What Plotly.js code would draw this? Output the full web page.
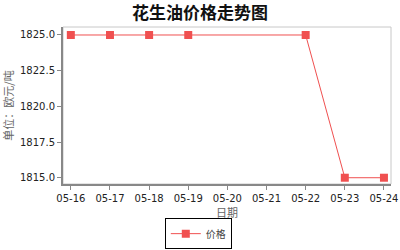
<!DOCTYPE html>
<html>
<head>
<meta charset="utf-8">
<script src="https://cdn.plot.ly/plotly-3.0.1.min.js"></script>
<style>html,body{margin:0;padding:0;background:#fff;}#chart{width:400px;height:250px;}</style>
</head>
<body>
<div id="chart"></div>
<script>
// Peanut oil price, euro per tonne, by day
const dates = ['05-16', '05-17', '05-18', '05-19', '05-20', '05-21', '05-22', '05-23', '05-24'];
const prices = [1825, 1825, 1825, 1825, null, null, 1825, 1815, 1815];
const yTicks = [1815, 1817.5, 1820, 1822.5, 1825];
const yTickText = ['1815.0', '1817.5', '1820.0', '1822.5', '1825.0'];

const lineColor = '#f05050';
const tickFont = {family: 'DejaVu Sans, sans-serif', size: 10, color: '#222'};
const cjk = 'Noto Sans CJK SC, sans-serif';

Plotly.newPlot('chart', [{
  x: dates,
  y: prices,
  type: 'scatter',
  mode: 'lines+markers',
  name: '价格',
  connectgaps: true,
  line: {color: lineColor, width: 1},
  marker: {color: lineColor, symbol: 'square', size: 8}
}], {
  width: 400,
  height: 250,
  margin: {l: 63, r: 9, t: 27, b: 66, autoexpand: false},
  paper_bgcolor: '#fff',
  plot_bgcolor: '#fff',
  title: {
    text: '<b>花生油价格走势图</b>',
    font: {family: cjk, size: 17, color: '#111'},
    x: 0.5, xanchor: 'center', yref: 'container', y: 0.946, yanchor: 'middle'
  },
  xaxis: {
    type: 'category',
    range: [-0.2, 8.18],
    showgrid: false,
    zeroline: false,
    showline: true, linecolor: '#888', linewidth: 2,
    ticks: 'outside', ticklen: 4, tickcolor: '#888', tickwidth: 1,
    tickfont: tickFont,
    title: {text: '日期', font: {family: cjk, size: 11, color: '#666'}, standoff: 6}
  },
  yaxis: {
    range: [1814.56, 1825.56],
    tickvals: yTicks,
    ticktext: yTickText,
    showgrid: false,
    zeroline: false,
    showline: true, linecolor: '#888', linewidth: 2,
    ticks: 'outside', ticklen: 4, tickcolor: '#888', tickwidth: 1,
    tickfont: tickFont,
    title: {text: '单位：欧元/吨', font: {family: cjk, size: 11, color: '#666'}, standoff: 5}
  },
  shapes: [{
    type: 'rect', xref: 'paper', yref: 'paper', x0: 0, x1: 1, y0: 0, y1: 1,
    line: {color: '#c8c8c8', width: 1}, layer: 'below'
  }],
  showlegend: true,
  legend: {
    x: 0.4125, xanchor: 'center', y: -0.415, yanchor: 'bottom',
    orientation: 'v',
    bordercolor: '#000', borderwidth: 1, bgcolor: '#fff',
    font: {family: cjk, size: 10, color: '#444'},
    itemwidth: 30
  }
}, {displayModeBar: false, staticPlot: true});
</script>
</body>
</html>
